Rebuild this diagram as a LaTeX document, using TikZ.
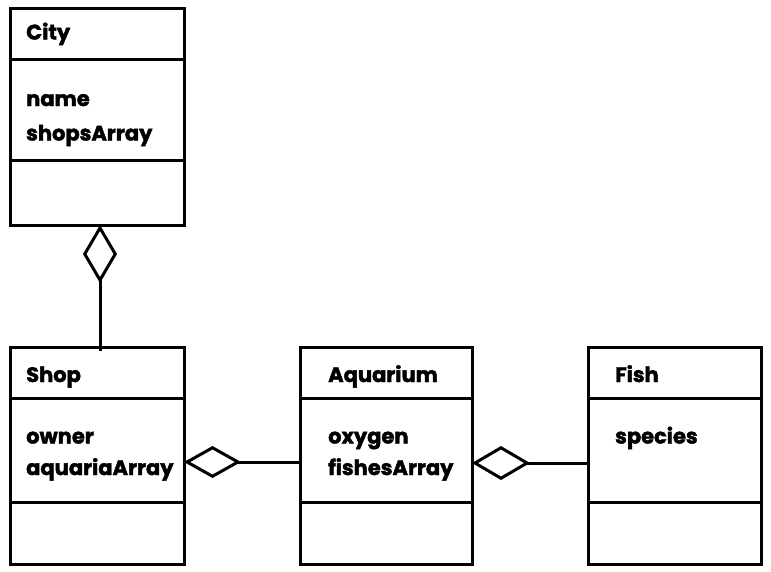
\documentclass[tikz,border=0pt]{standalone}
\usepackage{fontspec}
\setmainfont{Poppins}[BoldFeatures={FakeBold=2}]
\usetikzlibrary{arrows.meta}

\tikzset{
  classbox/.style={draw, line width=3pt, minimum width=174pt, minimum height=217pt, inner sep=0pt, outer sep=0pt},
  sepline/.style={line width=3pt},
  lbl/.style={anchor=base west, inner sep=0pt, font=\bfseries\fontsize{21}{25}\selectfont},
  aggr/.style={line width=3pt, -{Diamond[open, length=57pt, width=32pt]}},
}

\begin{document}
\begin{tikzpicture}[x=1pt,y=-1pt]
    \useasboundingbox (0,0) rectangle (771,571);

    % Class boxes
    \node[classbox] (city) at (97,116.5) {};
    \node[classbox] (shop) at (97,455.5) {};
    \node[classbox, minimum width=172pt] (aquarium) at (386,455.5) {};
    \node[classbox, minimum width=173pt] (fish) at (674.5,455.5) {};

    % Compartments
    \draw[sepline] (city.north west) ++(0,51) -- ++(174,0);
    \draw[sepline] (city.north west) ++(0,152) -- ++(174,0);
    \foreach \b/\w in {shop/174, aquarium/172, fish/173} {
        \draw[sepline] (\b.north west) ++(0,51) -- ++(\w,0);
        \draw[sepline] (\b.north west) ++(0,155) -- ++(\w,0);
    }

    % Labels
    \node[lbl] (citytitle) at (26,39.5) {City};
    \node[lbl] (cityname) at (26,106) {name};
    \node[lbl] (cityshops) at (26,140.5) {shopsArray};

    \node[lbl] (shoptitle) at (26,382) {Shop};
    \node[lbl] (shopowner) at (26,443.5) {owner};
    \node[lbl] (shopaquaria) at (26,475) {aquariaArray};

    \node[lbl] (aquatitle) at (328,382) {Aquarium};
    \node[lbl] (aquaoxygen) at (328,443.5) {oxygen};
    \node[lbl] (aquafishes) at (328,475) {fishesArray};

    \node[lbl] (fishtitle) at (615,382) {Fish};
    \node[lbl] (fishspecies) at (615,443.5) {species};

    % Aggregations
    \coordinate (shoptop) at ([xshift=3pt,yshift=-4pt]shop.north);
    \coordinate (citybottom) at ([xshift=3pt]city.south);
    \coordinate (aquaright) at (aquarium.west |- 0,462);
    \coordinate (shopright) at (shop.east |- 0,462);
    \coordinate (fishleft) at ([xshift=2pt]fish.west |- 0,463);
    \coordinate (aquaend) at (aquarium.east |- 0,463);
    \draw[aggr, -{Diamond[open, length=58pt, width=34pt]}] (shoptop) -- (citybottom);
    \draw[aggr] (aquaright) -- (shopright);
    \draw[aggr, -{Diamond[open, length=58pt, width=34pt]}] (fishleft) -- (aquaend);
\end{tikzpicture}
\end{document}
